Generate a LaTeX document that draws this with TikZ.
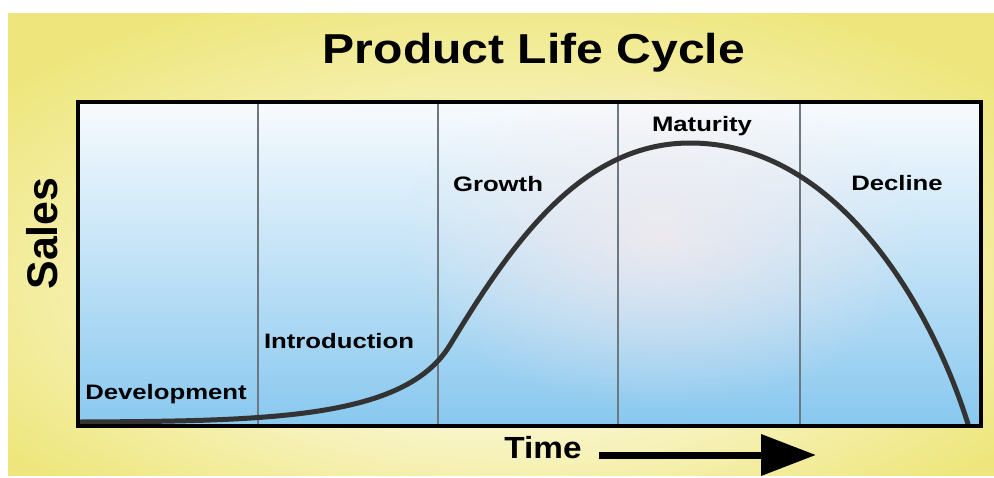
\documentclass[tikz,border=0pt]{standalone}
\usepackage{fontspec}
\setmainfont{Liberation Sans}
\usetikzlibrary{arrows.meta,fadings}

\definecolor{bgin}{HTML}{FCFAE4}
\definecolor{bgout}{HTML}{EEE67C}
\definecolor{skytop}{HTML}{F8FBFE}
\definecolor{skymid}{HTML}{D6EDFA}
\definecolor{skybot}{HTML}{88C8EF}
\definecolor{divgray}{HTML}{6E7880}
\definecolor{curvegray}{HTML}{333333}

\pgfdeclareradialshading{bgglow}{\pgfpoint{0bp}{-8bp}}{color(0bp)=(bgin); color(8bp)=(bgin); color(32bp)=(bgout); color(50bp)=(bgout)}
\tikzfading[name=haze, inner color=transparent!35, outer color=transparent!100]

\tikzset{
  phase/.style={anchor=base, inner sep=0pt, xscale=1.23,
    font=\fontsize{11.9}{14}\selectfont\bfseries},
  axislabel/.style={anchor=base, inner sep=0pt,
    font=\fontsize{24.4}{28}\selectfont\bfseries}
}

\begin{document}
\begin{tikzpicture}[x=0.02cm, y=-0.02cm]
   \useasboundingbox (0,0) rectangle (994,477);
   % background
   \shade[shading=bgglow] (8,13) rectangle (994,475);
   \shade[top color=skytop, middle color=skymid, bottom color=skybot]
      (77.5,102) rectangle (981,425.5);
   \fill[white!92!red, path fading=haze]
      (660,240) ellipse [x radius=260, y radius=170];
   % phases
   \foreach \x in {258,438,618,800}
      \draw[divgray, line width=0.04cm] (\x,102) -- (\x,425.5);
   % sales curve
   \draw[curvegray, line width=0.1cm, line cap=round]
      (80,422) .. controls (270,421) and (405,419) .. (450,345)
               .. controls (510,246) and (580,143) .. (690,143)
               .. controls (840,143) and (933,312) .. (968,424);
   \draw[line width=0.08cm] (77.5,102) rectangle (981,425.5);

   \node[axislabel, xscale=1.15, font=\fontsize{23.8}{28}\selectfont\bfseries]
      (title) at (534,63) {Product Life Cycle};
   \node[axislabel, rotate=90] (sales) at (57,233.5) {Sales};
   \node[axislabel, xscale=1.09, font=\fontsize{17.4}{20}\selectfont\bfseries]
      (time) at (543,458) {Time};

   \node[phase] (dev)      at (166,399) {Development};
   \node[phase] (intro)    at (339,348) {Introduction};
   \node[phase] (growth)   at (498,191) {Growth};
   \node[phase] (maturity) at (702,131) {Maturity};
   \node[phase] (decline)  at (897,190) {Decline};

   \coordinate (tstart) at (599,455);
   \coordinate (tend)   at (816,455);
   \draw[line width=0.14cm, -{Triangle[length=1.1cm, width=0.8cm]}]
      (tstart) -- (tend);
\end{tikzpicture}
\end{document}
